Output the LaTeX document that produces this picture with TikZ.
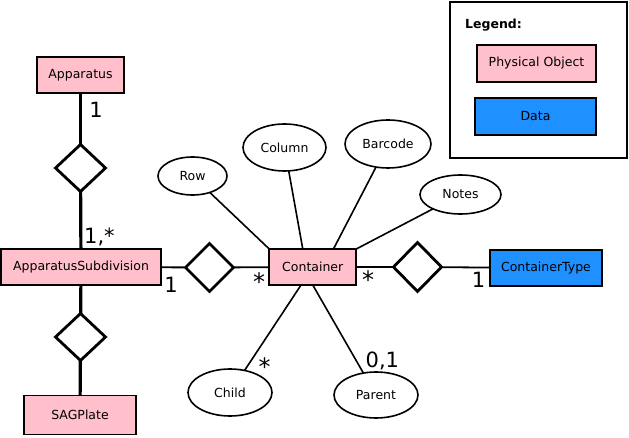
\documentclass[tikz,border=0pt]{standalone}
\usepackage{fontspec}
\setmainfont{DejaVu Sans}
\usetikzlibrary{shapes.geometric}
\definecolor{pinkfill}{HTML}{FFC0CB}
\definecolor{bluefill}{HTML}{1E90FF}
\begin{document}
\begin{tikzpicture}[x=1pt,y=-1pt,
  namefont/.style={font=\fontsize{12.5}{15}\selectfont},
  ent/.style={rectangle, draw=black, line width=1.6pt, fill=pinkfill, inner sep=0pt, outer sep=0pt, minimum height=36pt, namefont},
  dataent/.style={ent, fill=bluefill},
  rel/.style={diamond, draw=black, line width=2.8pt, fill=white, inner sep=0pt, outer sep=0pt, minimum width=48pt, minimum height=48pt},
  attr/.style={ellipse, draw=black, line width=1.6pt, fill=white, inner sep=0pt, outer sep=0pt, namefont},
  card/.style={font=\fontsize{21}{24}\selectfont, anchor=base, inner sep=0pt},
  starcard/.style={card, font=\fontsize{24}{28}\selectfont},
  heavylink/.style={line width=3.2pt},
  link/.style={line width=1.8pt},
  attrlink/.style={line width=1.6pt}]
\useasboundingbox (0,0) rectangle (629,438);

% legend
\node[draw=black, line width=2pt, fill=white, minimum width=177pt, minimum height=156pt, inner sep=0pt, outer sep=0pt] (legend) at (538.5,80) {};
\node[font=\bfseries\fontsize{12.5}{15}\selectfont, inner sep=0pt] (legendtitle) at (493.5,25) {Legend:};
\node[ent, minimum width=119pt, minimum height=37pt] (legphys) at (536.5,63.5) {Physical Object};
\node[dataent, minimum width=121pt, minimum height=37pt] (legdata) at (535.5,116.5) {Data};

% entities
\node[ent, minimum width=87pt] (apparatus) at (80.5,75) {Apparatus};
\node[ent, minimum width=160pt] (subdiv) at (81,267) {ApparatusSubdivision};
\node[ent, minimum width=112pt, minimum height=39pt] (sagplate) at (80,415) {SAGPlate};
\node[ent, minimum width=87pt] (container) at (312.75,267) {Container};
\node[dataent, minimum width=112pt] (ctype) at (546,268) {ContainerType};

% relationships
\node[rel, minimum width=50pt, minimum height=47pt] (d1) at (80.5,168) {};
\node[rel, minimum width=50pt, minimum height=47pt] (d2) at (80.5,337) {};
\node[rel] (d3) at (209.5,267.5) {};
\node[rel, minimum height=49pt] (d4) at (417.5,267) {};

% attributes
\node[attr, minimum width=69pt, minimum height=38pt] (row) at (192.5,176) {Row};
\node[attr, minimum width=83pt, minimum height=47pt] (column) at (284.5,147.5) {Column};
\node[attr, minimum width=86pt, minimum height=48pt] (barcode) at (388,144) {Barcode};
\node[attr, minimum width=81pt, minimum height=39pt] (notes) at (460.5,194.5) {Notes};
\node[attr, minimum width=84pt, minimum height=47pt] (child) at (230,392.5) {Child};
\node[attr, minimum width=84pt, minimum height=46pt] (parent) at (376,395) {Parent};

% connectors
\draw[heavylink] (apparatus) -- (d1);
\draw[heavylink] (d1) -- (subdiv);
\draw[heavylink] (subdiv) -- (d2);
\draw[heavylink] (d2) -- (sagplate);
\draw[link] (subdiv) -- (d3);
\draw[link] (d3) -- (container);
\draw[link] (container) -- (d4);
\draw[link] (d4) -- (ctype);
\draw[attrlink] (row) -- (container.north west);
\draw[attrlink] (column) -- (container.119);
\draw[attrlink] (barcode) -- (container.41);
\draw[attrlink] (notes) -- (container.north east);
\draw[attrlink] (child) -- (container.237);
\draw[attrlink] (parent) -- (container.south);

% cardinalities
\node[card] (c1) at (96,118) {1};
\node[card, anchor=base west] (c2) at (84,244) {1,*};
\node[card] (c3) at (171,293) {1};
\node[starcard] (c4) at (259,290.5) {*};
\node[starcard] (c5) at (368,288.5) {*};
\node[card] (c6) at (478.5,288) {1};
\node[starcard] (c7) at (264.5,375.5) {*};
\node[card, anchor=base west] (c8) at (365.5,367) {0,1};
\end{tikzpicture}
\end{document}
